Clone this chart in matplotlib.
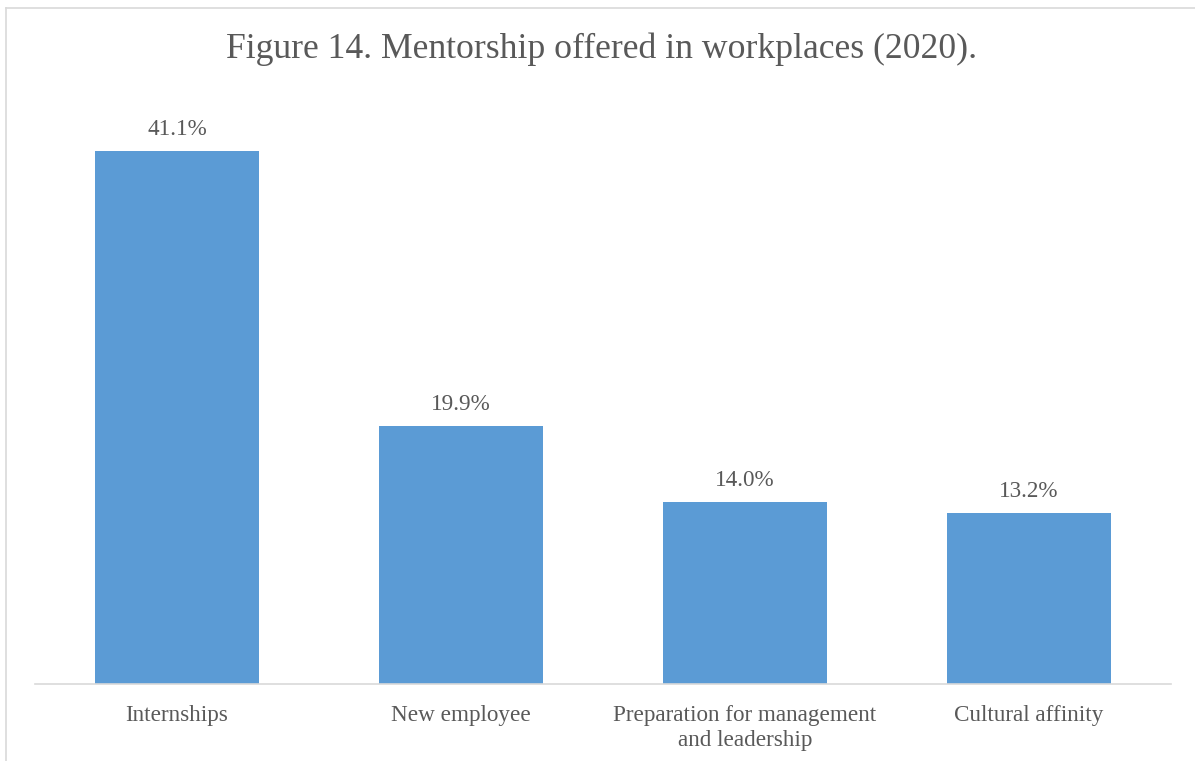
import numpy as np
import matplotlib.pyplot as plt
from matplotlib.lines import Line2D

categories = ["Internships", "New employee", "Preparation for management\nand leadership", "Cultural affinity"]
values = [41.1, 19.9, 14.0, 13.2]

W, H = 1195, 761
plt.rcParams['font.family'] = ['Liberation Serif', 'DejaVu Serif']
text_color = '#595959'

fig = plt.figure(figsize=(W / 100, H / 100), dpi=100)
fig.patch.set_facecolor('white')

# plot area in pixel coords: x 35..1171, y 100..684
ax = fig.add_axes([35 / W, 1 - 684 / H, 1136 / W, 584 / H])
x = np.arange(len(categories))
bars = ax.bar(x, values, width=0.574, color='#5B9BD5', zorder=2)
ax.set_xlim(-0.5, len(categories) - 0.5)
ax.set_ylim(0, 45)

for b, v in zip(bars, values):
    ax.annotate(f"{v:.1f}%", (b.get_x() + b.get_width() / 2, v),
                xytext=(0, 8), textcoords='offset points',
                ha='center', va='bottom', fontsize=16.7, color=text_color)

ax.set_xticks(x)
ax.set_xticklabels(categories, fontsize=16.7, color=text_color, linespacing=1.28)
ax.tick_params(axis='x', length=0, pad=15)
ax.set_yticks([])
for side in ['top', 'right', 'left']:
    ax.spines[side].set_visible(False)
ax.spines['bottom'].set_color('#D9D9D9')
ax.spines['bottom'].set_linewidth(1.2)

fig.suptitle("Figure 14. Mentorship offered in workplaces (2020).",
             x=0.503, y=1 - 49 / H, va='center', fontsize=25.7, color=text_color)

# thin frame around the chart (only top and left visible in the crop)
fig.add_artist(Line2D([6.5 / W, 6.5 / W], [0, 1 - 7.5 / H], transform=fig.transFigure,
                      color='#D9D9D9', linewidth=1.2))
fig.add_artist(Line2D([6.5 / W, 1], [1 - 7.5 / H, 1 - 7.5 / H], transform=fig.transFigure,
                      color='#D9D9D9', linewidth=1.2))

fig.savefig('out.png', dpi=100)
